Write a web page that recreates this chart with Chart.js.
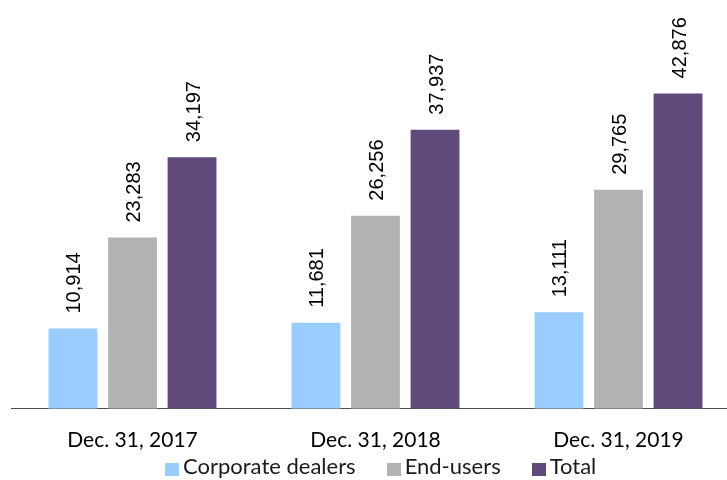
<!DOCTYPE html>
<html lang="en">
<head>
  <meta charset="UTF-8">
  <title>Dealers and end-users</title>
  <style>
    body {
      margin: 0;
      background: #ffffff;
      overflow: hidden;
    }
    #wrap {
      width: 727px;
      height: 480px;
      overflow: hidden;
      position: relative;
    }
    canvas {
      position: absolute;
      left: 0;
      top: 0;
    }
    #legend {
      position: absolute;
      left: 165px;
      top: 455px;
      display: flex;
      align-items: flex-start;
      font-family: Lato, "Open Sans", sans-serif;
      font-size: 22px;
      line-height: 22px;
      color: #1a1a1a;
      white-space: nowrap;
    }
    .item {
      display: flex;
      align-items: flex-start;
      margin-right: 31px;
    }
    .box {
      width: 14px;
      height: 13px;
      margin-top: 8px;
      margin-right: 4px;
    }
  </style>
</head>
<body>
  <div id="wrap">
    <canvas id="chart" width="740" height="480"></canvas>
    <div id="legend"></div>
  </div>

  <script src="https://cdn.jsdelivr.net/npm/chart.js"></script>
  <script>
    const categories = ['Dec. 31, 2017', 'Dec. 31, 2018', 'Dec. 31, 2019'];
    const seriesNames = ['Corporate dealers', 'End-users', 'Total'];
    const dealers = [10914, 11681, 13111];
    const endUsers = [23283, 26256, 29765];
    const total = [34197, 37937, 42876];
    const colors = ['#99ccff', '#b3b3b3', '#604a7b'];

    // values written vertically above each bar
    const barLabels = {
      id: 'barLabels',
      afterDatasetsDraw(chart) {
        const ctx = chart.ctx;
        ctx.save();
        ctx.font = '20px "Liberation Sans", Arial, sans-serif';
        ctx.fillStyle = '#000000';
        ctx.textAlign = 'left';
        ctx.textBaseline = 'middle';
        chart.data.datasets.forEach((ds, i) => {
          chart.getDatasetMeta(i).data.forEach((bar, j) => {
            ctx.save();
            ctx.translate(bar.x + 2, bar.y - 15);
            ctx.rotate(-Math.PI / 2);
            ctx.fillText(ds.data[j].toLocaleString('en-US'), 0, 0);
            ctx.restore();
          });
        });
        ctx.restore();
      }
    };

    const ctx = document.getElementById('chart').getContext('2d');
    const chart = new Chart(ctx, {
      type: 'bar',
      data: {
        labels: categories,
        datasets: [dealers, endUsers, total].map((d, i) => ({
          label: seriesNames[i],
          data: d,
          backgroundColor: colors[i],
          borderWidth: 0,
          categoryPercentage: 0.735,
          barPercentage: 0.82
        }))
      },
      options: {
        responsive: false,
        animation: false,
        layout: { padding: { top: 41, left: 11, right: 0, bottom: 8 } },
        plugins: {
          tooltip: { enabled: false },
          legend: { display: false }
        },
        scales: {
          x: {
            grid: { display: false, drawTicks: false },
            border: { display: true, color: '#4d4d4d', width: 1 },
            ticks: {
              padding: 19,
              color: '#000000',
              font: { family: 'Lato, "Open Sans", sans-serif', size: 21 }
            }
          },
          y: {
            display: false,
            min: 0,
            max: 50000
          }
        }
      },
      plugins: [barLabels]
    });

    // legend built from the chart's datasets
    const legend = document.getElementById('legend');
    chart.data.datasets.forEach(ds => {
      const item = document.createElement('div');
      item.className = 'item';
      const box = document.createElement('span');
      box.className = 'box';
      box.style.background = ds.backgroundColor;
      const txt = document.createElement('span');
      txt.textContent = ds.label;
      item.appendChild(box);
      item.appendChild(txt);
      legend.appendChild(item);
    });
  </script>
</body>
</html>
